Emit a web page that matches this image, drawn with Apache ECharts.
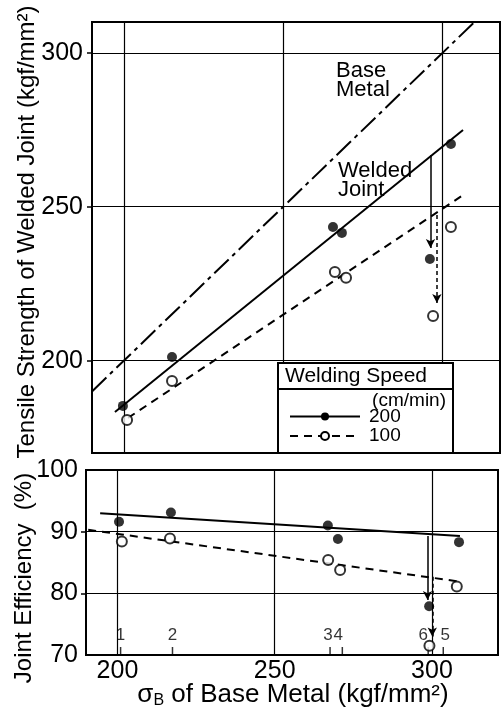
<!DOCTYPE html>
<html>
<head>
<meta charset="utf-8">
<script src="https://cdn.jsdelivr.net/npm/echarts@6/dist/echarts.min.js"></script>
<style>
html, body { margin: 0; padding: 0; background: #fff; }
#chart { width: 502px; height: 716px; }
</style>
</head>
<body>
<div id="chart"></div>
<script>
// specimens 1..6
const tsX200 = [199.7, 215.1, 265.6, 268.4, 302.6, 296.0];
const tsY200 = [185.3, 201.2, 243.4, 241.5, 270.4, 233.0];
const tsX100 = [201.0, 215.1, 266.2, 269.7, 302.6, 297.0];
const tsY100 = [180.7, 193.4, 228.8, 226.9, 243.4, 214.5];

const effX200 = [200.5, 217.0, 266.9, 270.1, 308.6, 299.1];
const effY200 = [91.6, 93.1, 91.0, 88.8, 88.3, 77.9];
const effX100 = [201.4, 216.7, 267.0, 270.8, 307.9, 299.2];
const effY100 = [88.4, 88.9, 85.4, 83.8, 81.1, 71.5];

// fitted / reference lines (start, end)
const baseMetalLine = [[190, 190], [310, 310]];
const tsFit200 = [[197.2, 183.3], [306.4, 274.9]];
const tsFit100 = [[201.3, 181.4], [307.3, 254.4]];
const effFit200 = [[194.5, 93.0], [308.9, 89.3]];
const effFit100 = [[190.7, 90.3], [308.9, 81.9]];

// arrows: [x, from, to]
const tsArrow200 = [296.2, 266.8, 236.6];
const tsArrow100 = [298.2, 247.3, 218.7];
const effArrow200 = [298.6, 89.3, 78.9];
const effArrow100 = [300.1, 82.7, 73.0];

// specimen numbers along the bottom of the lower panel
const specimenNames = ['1', '2', '3', '4', '5', '6'];
const specimenX = [201.0, 217.5, 267.6, 271.5, 303.6, 298.8];

const xTicks = [200, 250, 300];
const tsTicks = [200, 250, 300];
const effLabels = [70, 80, 90, 100];
const effGrid = [80, 90];

const FONT = 'Liberation Sans, Arial, sans-serif';
const specimenLabelDx = [0, 0, -2, -4, 2, -5];

function pairs(xs, ys) {
    return xs.map(function (x, i) { return [x, ys[i]]; });
}

function arrow(a, dashed) {
    return {
        silent: true,
        animation: false,
        symbol: ['none', 'arrow'],
        symbolSize: [7, 9],
        label: { show: false },
        lineStyle: { color: '#000', width: 1.5, type: dashed ? [4, 3] : 'solid' },
        data: [[{ coord: [a[0], a[1]] }, { coord: [a[0], a[2]] }]]
    };
}

const chart = echarts.init(document.getElementById('chart'));

const gridLine = { show: true, lineStyle: { color: '#000', width: 1.2 } };
const tickStyle = { color: '#000', width: 1.5 };

const option = {
    backgroundColor: '#fff',
    animation: false,
    textStyle: { fontFamily: FONT, color: '#000' },
    grid: [
        { left: 92, top: 22, width: 408, height: 431, show: true, borderColor: '#000', borderWidth: 2 },
        { left: 86, top: 470, width: 412, height: 185, show: true, borderColor: '#000', borderWidth: 2 }
    ],
    xAxis: [
        {
            type: 'value', gridIndex: 0, min: 190, max: 318,
            axisLine: { show: false },
            axisTick: { show: false, customValues: xTicks },
            axisLabel: { show: false, customValues: xTicks },
            splitLine: gridLine
        },
        {
            type: 'value', gridIndex: 1, min: 190, max: 321,
            axisLine: { show: false },
            axisTick: { show: false, customValues: xTicks },
            axisLabel: { customValues: xTicks, margin: 4, fontSize: 25, color: '#000', fontFamily: FONT },
            splitLine: gridLine
        }
    ],
    yAxis: [
        {
            type: 'value', gridIndex: 0, min: 170, max: 310,
            axisLine: { show: false },
            axisTick: { show: true, customValues: tsTicks, length: 5, lineStyle: tickStyle },
            axisLabel: { customValues: tsTicks, margin: 9, fontSize: 25, color: '#000', fontFamily: FONT },
            splitLine: gridLine
        },
        {
            type: 'value', gridIndex: 1, min: 70, max: 100,
            axisLine: { show: false },
            axisTick: { show: true, customValues: effGrid, length: 5, lineStyle: tickStyle },
            axisLabel: { customValues: effLabels, margin: 8, fontSize: 25, color: '#000', fontFamily: FONT },
            splitLine: gridLine
        }
    ],
    legend: {
        z: 200,
        left: 289,
        top: 407,
        orient: 'vertical',
        itemWidth: 70,
        itemHeight: 10,
        itemGap: 0.5,
        padding: 0,
        selectedMode: false,
        data: ['200', '100'],
        textStyle: { fontSize: 19, lineHeight: 17, fontFamily: FONT, color: '#000', padding: [0, 0, 0, 4] }
    },
    series: [
        {
            name: '200', type: 'line', xAxisIndex: 0, yAxisIndex: 0,
            data: tsFit200, symbol: 'circle', symbolSize: 9, showSymbol: false,
            itemStyle: { color: '#000' },
            lineStyle: { color: '#000', width: 2 },
            markLine: arrow(tsArrow200, false)
        },
        {
            name: '100', type: 'line', xAxisIndex: 0, yAxisIndex: 0,
            data: tsFit100, symbol: 'circle', symbolSize: 10, showSymbol: false,
            itemStyle: { color: '#fff', borderColor: '#000', borderWidth: 2 },
            lineStyle: { color: '#000', width: 2, type: [8, 6] },
            markLine: arrow(tsArrow100, true)
        },
        {
            name: 'Base Metal', type: 'line', xAxisIndex: 0, yAxisIndex: 0,
            data: baseMetalLine, showSymbol: false, symbol: 'none',
            lineStyle: { color: '#000', width: 2, type: [20, 5, 4, 5] }
        },
        {
            name: '200', type: 'scatter', xAxisIndex: 0, yAxisIndex: 0,
            data: pairs(tsX200, tsY200), symbol: 'circle', symbolSize: 10,
            itemStyle: { color: '#000' }, z: 5
        },
        {
            name: '100', type: 'scatter', xAxisIndex: 0, yAxisIndex: 0,
            data: pairs(tsX100, tsY100), symbol: 'circle', symbolSize: 10,
            itemStyle: { color: '#fff', borderColor: '#000', borderWidth: 2 }, z: 5
        },
        {
            name: '200', type: 'line', xAxisIndex: 1, yAxisIndex: 1,
            data: effFit200, showSymbol: false, symbol: 'circle',
            lineStyle: { color: '#000', width: 2 },
            markLine: arrow(effArrow200, false)
        },
        {
            name: '100', type: 'line', xAxisIndex: 1, yAxisIndex: 1,
            data: effFit100, showSymbol: false, symbol: 'circle',
            lineStyle: { color: '#000', width: 2, type: [8, 6] },
            markLine: arrow(effArrow100, true)
        },
        {
            name: '200', type: 'scatter', xAxisIndex: 1, yAxisIndex: 1,
            data: pairs(effX200, effY200), symbol: 'circle', symbolSize: 10,
            itemStyle: { color: '#000' }, z: 5
        },
        {
            name: '100', type: 'scatter', xAxisIndex: 1, yAxisIndex: 1,
            data: pairs(effX100, effY100), symbol: 'circle', symbolSize: 10,
            itemStyle: { color: '#fff', borderColor: '#000', borderWidth: 2 }, z: 5
        },
        {
            name: 'specimen', type: 'scatter', xAxisIndex: 1, yAxisIndex: 1,
            symbol: 'rect', symbolSize: [1.5, 8], symbolOffset: [0, '-50%'],
            itemStyle: { color: '#000' },
            data: specimenX.map(function (x, i) {
                return { value: [x, 70], name: specimenNames[i], label: { offset: [specimenLabelDx[i], 0] } };
            }),
            label: {
                show: true, position: 'top', distance: 3,
                formatter: '{b}', fontSize: 17, color: '#000', fontFamily: FONT
            }
        }
    ],
    graphic: [
        {
            type: 'text', left: 336, top: 60, z: 50,
            style: { text: 'Base\nMetal', font: '22px ' + FONT, fill: '#000', lineHeight: 19 }
        },
        {
            type: 'text', left: 338, top: 160, z: 50,
            style: { text: 'Welded\nJoint', font: '22px ' + FONT, fill: '#000', lineHeight: 19 }
        },
        {
            type: 'rect', z: 100,
            shape: { x: 278, y: 363, width: 175, height: 90 },
            style: { fill: '#fff', stroke: '#000', lineWidth: 2 }
        },
        {
            type: 'line', z: 101,
            shape: { x1: 278, y1: 389, x2: 453, y2: 389 },
            style: { stroke: '#000', lineWidth: 2 }
        },
        {
            type: 'text', x: 285, y: 376, z: 101,
            style: { text: 'Welding Speed', font: '21px ' + FONT, fill: '#000', verticalAlign: 'middle' }
        },
        {
            type: 'text', x: 446, y: 401, z: 101,
            style: { text: '(cm/min)', font: '19px ' + FONT, fill: '#000', align: 'right', verticalAlign: 'middle' }
        },
        {
            type: 'text', x: 27, y: 232, rotation: Math.PI / 2, z: 50,
            style: { text: 'Tensile Strength of Welded Joint (kgf/mm²)', font: '24px ' + FONT, fill: '#000', align: 'center', verticalAlign: 'middle' }
        },
        {
            type: 'text', x: 24, y: 578, rotation: Math.PI / 2, z: 50,
            style: { text: 'Joint Efficiency  (%)', font: '24px ' + FONT, fill: '#000', align: 'center', verticalAlign: 'middle' }
        },
        {
            type: 'text', x: 293, y: 695, z: 50,
            style: {
                text: '{a|σ}{s|B}{a| of Base Metal (kgf/mm²)}',
                align: 'center', verticalAlign: 'middle', fill: '#000',
                rich: {
                    a: { fontSize: 26, fontFamily: FONT, fill: '#000', lineHeight: 28 },
                    s: { fontSize: 16, fontFamily: FONT, fill: '#000', verticalAlign: 'bottom', lineHeight: 28 }
                }
            }
        }
    ]
};

chart.setOption(option);
</script>
</body>
</html>
